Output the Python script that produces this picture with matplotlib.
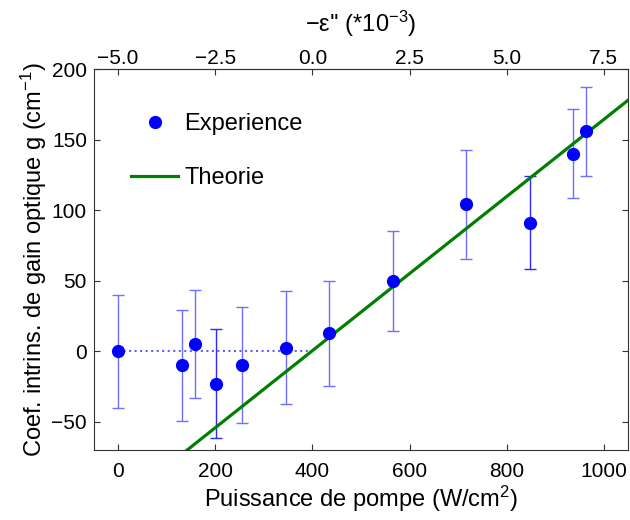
import matplotlib

matplotlib.use("Agg")
import matplotlib.pyplot as plt

plt.rcParams["font.family"] = ["Liberation Sans", "DejaVu Sans"]
plt.rcParams["mathtext.default"] = "regular"
plt.rcParams["font.size"] = 15

# measured points: pump power (W/cm2), gain (cm-1), error half-width
pump = [0, 132, 158, 202, 256, 346, 434, 565, 716, 848, 937, 963]
gain = [0, -10, 5, -23, -10, 2.5, 12.5, 50, 104, 91, 140, 156]
gain_err = [40, 39.5, 38, 38.5, 41, 40, 37, 35.5, 38.5, 33, 31.5, 31.5]

# threshold line (no gain below ~400 W/cm2)
thresh_x = [0, 400]
thresh_y = [0, 0]

# theory fit
theory_x = [0, 1050]
theory_y = [-109, 178]

x_ticks = [0, 200, 400, 600, 800, 1000]
y_ticks = [-50, 0, 50, 100, 150, 200]
eps_ticks = [-5.0, -2.5, 0.0, 2.5, 5.0, 7.5]


def to_eps(x):
    return -5 + x / 80.0


def from_eps(e):
    return (e + 5) * 80.0


fig = plt.figure(figsize=(6.3, 5.2), dpi=100)
ax = fig.add_axes([0.149, 0.135, 0.848, 0.732])

ax.plot(thresh_x, thresh_y, ":", color="#6060ff", lw=1.5)

light = [i for i in range(len(pump)) if i not in (3, 9)]
dark = [3, 9]
for idx, col in ((light, "#7070ff"), (dark, "#2a2aff")):
    ax.errorbar([pump[i] for i in idx], [gain[i] for i in idx],
                yerr=[gain_err[i] for i in idx], fmt="none",
                ecolor=col, elinewidth=1.0, capsize=4.5, capthick=1.0)

ax.plot(theory_x, theory_y, "-", color="#008000", lw=2.3, label="Theorie", zorder=3)
ax.plot(pump, gain, "o", color="#0000ff", ms=8.5, label="Experience", zorder=4)

ax.set_xlim(-50, 1050)
ax.set_ylim(-70, 200)
ax.set_xticks(x_ticks)
ax.set_yticks(y_ticks)
ax.tick_params(direction="in", length=4, width=0.8, colors="#333333",
               labelcolor="black", labelsize=15, right=True, pad=5)
ax.tick_params(axis="x", pad=9)
for s in ax.spines.values():
    s.set_color("#333333")

ax.set_xlabel("Puissance de pompe (W/cm$^2$)", fontsize=17, labelpad=2)
ax.set_ylabel("Coef. intrins. de gain optique g (cm$^{-1}$)", fontsize=17, labelpad=2)

top = ax.secondary_xaxis("top", functions=(to_eps, from_eps))
top.set_xticks(eps_ticks)
top.set_xticklabels([f"{e:.1f}".replace("-", "\u2212") for e in eps_ticks])
top.tick_params(direction="in", length=4, width=0.8, colors="#333333",
                labelcolor="black", labelsize=15, pad=1)
top.spines["top"].set_color("#333333")
top.set_xlabel("\u2212\u03b5'' (*10$^{\u22123}$)", fontsize=17, labelpad=12)

handles, labels = ax.get_legend_handles_labels()
leg = ax.legend(handles[::-1], labels[::-1], loc="upper left",
                bbox_to_anchor=(0.03, 0.94), frameon=False, fontsize=17,
                labelspacing=1.35, handlelength=2.0, handletextpad=0.25,
                numpoints=1)

fig.savefig("out.png", dpi=100)
